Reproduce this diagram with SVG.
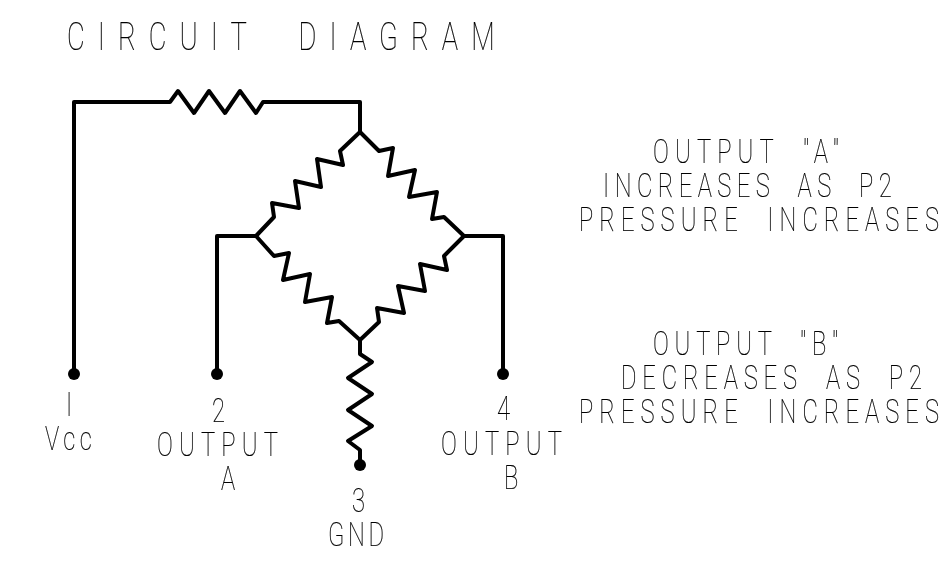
<svg xmlns="http://www.w3.org/2000/svg" width="948" height="571" viewBox="0 0 948 571">
<defs><filter id="g" x="0" y="0" width="948" height="571" filterUnits="userSpaceOnUse" color-interpolation-filters="sRGB"><feOffset dx="0" dy="0"/></filter></defs>
<style>
.w{fill:none;stroke:#000;stroke-width:4;stroke-linejoin:round;stroke-linecap:round}
.d{fill:#000}
.t{filter:url(#g)}
text{font-family:"Roboto","Liberation Sans",sans-serif;font-weight:100;font-size:33px;fill:#000;stroke:#000;stroke-width:.25}
#title text{font-size:38px}
</style>
<rect width="948" height="571" fill="#fff"/>
<g id="connectors">
<path class="w" d="M74 374V102H170L178 91L194 113L209 91L225 113L240 91L256 113L263 102H360V132"/>
<path class="w" d="M360 132L340 151L343 165L317 159L321 187L295 181L299 208L272 203L274 217L256 236"/>
<path class="w" d="M360 132L379 151L393 148L388 176L415 170L409 197L437 192L432 219L444 217L464 236"/>
<path class="w" d="M256 236L274 256L289 253L283 280L310 274L305 302L332 297L327 323L339 321L360 340"/>
<path class="w" d="M464 236L444 256L447 270L420 264L425 291L398 286L404 313L377 308L379 322L360 340"/>
<path class="w" d="M256 236H217V374"/>
<path class="w" d="M464 236H503V374"/>
<path class="w" d="M360 340V354L372 362L348 378L372 394L348 410L372 426L348 441L360 450V465"/>
</g>
<g id="pin1"><circle class="d" cx="74" cy="374" r="6"/><g class="t"><text transform="translate(66,416) scale(.72,1)">I</text><text transform="translate(45,450) scale(.72,1)" textLength="65">Vcc</text></g></g>
<g id="pin2"><circle class="d" cx="217" cy="374" r="6"/><g class="t"><text transform="translate(212,422) scale(.72,1)">2</text><text transform="translate(157,456) scale(.72,1)" textLength="168">OUTPUT</text><text transform="translate(221,490) scale(.72,1)">A</text></g></g>
<g id="pin3"><circle class="d" cx="360" cy="465" r="6"/><g class="t"><text transform="translate(352,512) scale(.72,1)">3</text><text transform="translate(328,546) scale(.72,1)" textLength="78">GND</text></g></g>
<g id="pin4"><circle class="d" cx="503" cy="374" r="6"/><g class="t"><text transform="translate(497,420) scale(.72,1)">4</text><text transform="translate(441,455) scale(.72,1)" textLength="168">OUTPUT</text><text transform="translate(504,489) scale(.72,1)">B</text></g></g>
<g id="title" class="t"><text transform="translate(67,50) scale(.72,1)" textLength="594" xml:space="preserve">CIRCUIT  DIAGRAM</text></g>
<g id="noteA" class="t">
<text transform="translate(653,163) scale(.72,1)" textLength="258" xml:space="preserve">OUTPUT  "A"</text>
<text transform="translate(603,197) scale(.72,1)" textLength="401" xml:space="preserve">INCREASES  AS  P2</text>
<text transform="translate(579,231) scale(.72,1)" textLength="500" xml:space="preserve">PRESSURE  INCREASES</text>
</g>
<g id="noteB" class="t">
<text transform="translate(653,355) scale(.72,1)" textLength="257" xml:space="preserve">OUTPUT  "B"</text>
<text transform="translate(621,389) scale(.72,1)" textLength="418" xml:space="preserve">DECREASES  AS  P2</text>
<text transform="translate(579,423) scale(.72,1)" textLength="500" xml:space="preserve">PRESSURE  INCREASES</text>
</g>
</svg>
